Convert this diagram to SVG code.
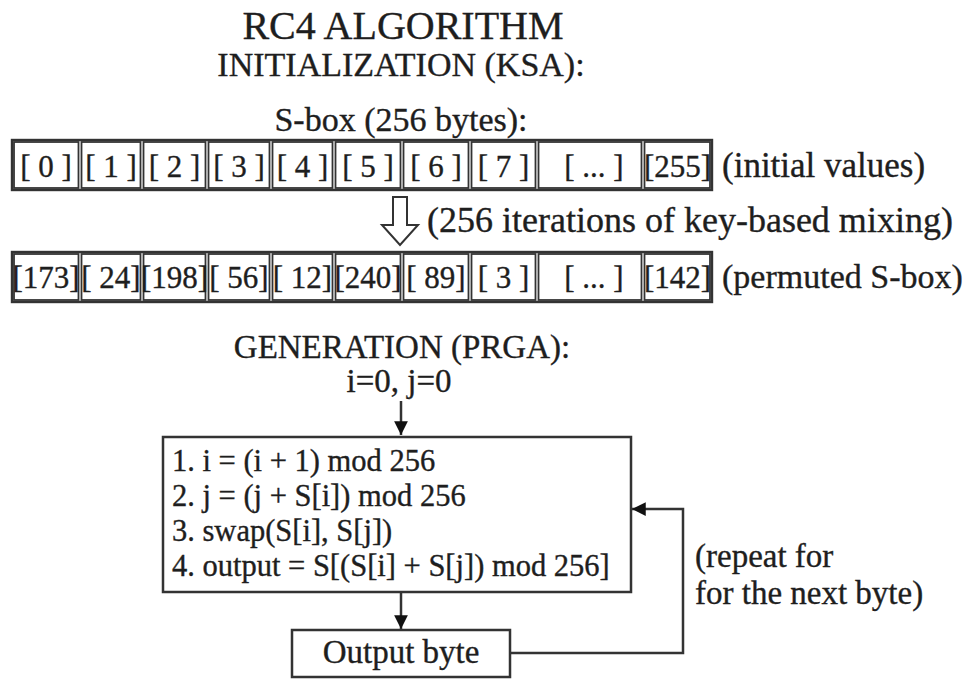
<svg xmlns="http://www.w3.org/2000/svg" width="968" height="679" viewBox="0 0 968 679">
<style>
text{font-family:"Liberation Serif","Times New Roman",serif;fill:#1e1e1e;stroke:#1e1e1e;stroke-width:0.35}
.t{font-size:40px;text-anchor:middle}
.h{font-size:34px;text-anchor:middle}
.g{font-size:33px;text-anchor:middle}
.c{font-size:31px;text-anchor:middle}
.n{font-size:35px}
.r{font-size:33px}
.b{font-size:30.5px}
.cell{fill:none;stroke:#333;stroke-width:1.8}
.outer{fill:none;stroke:#333;stroke-width:2.4}
.box{fill:#fff;stroke:#333;stroke-width:2.5}
.ln{fill:none;stroke:#333;stroke-width:2.5}
</style>
<defs>
<marker id="ah" viewBox="0 0 10 10" refX="10" refY="5" markerWidth="5.5" markerHeight="5.5" orient="auto" markerUnits="strokeWidth">
<path d="M0,0 L10,5 L0,10 z" fill="#111"/>
</marker>
</defs>
<rect width="968" height="679" fill="#fff"/>
<g id="title">
<text class="t" x="403" y="39">RC4 ALGORITHM</text>
<text class="h" x="401" y="76">INITIALIZATION (KSA):</text>
<text class="h" x="401" y="131">S-box (256 bytes):</text>
</g>
<g id="sbox-initial">
<rect class="outer" x="12" y="140" width="700" height="50"/>
<rect class="cell" x="14" y="142" width="64.5" height="46"/>
<rect class="cell" x="81.5" y="142" width="59" height="46"/>
<rect class="cell" x="143.5" y="142" width="62" height="46"/>
<rect class="cell" x="208.5" y="142" width="61" height="46"/>
<rect class="cell" x="272.5" y="142" width="60" height="46"/>
<rect class="cell" x="335.5" y="142" width="65" height="46"/>
<rect class="cell" x="403.5" y="142" width="65" height="46"/>
<rect class="cell" x="471.5" y="142" width="64" height="46"/>
<rect class="cell" x="538.5" y="142" width="103" height="46"/>
<rect class="cell" x="644.5" y="142" width="65.5" height="46"/>
<text class="c" x="46" y="177">[ 0 ]</text>
<text class="c" x="111" y="177">[ 1 ]</text>
<text class="c" x="174.5" y="177">[ 2 ]</text>
<text class="c" x="239" y="177">[ 3 ]</text>
<text class="c" x="302.5" y="177">[ 4 ]</text>
<text class="c" x="368" y="177">[ 5 ]</text>
<text class="c" x="436" y="177">[ 6 ]</text>
<text class="c" x="503.5" y="177">[ 7 ]</text>
<text class="c" x="594" y="177">[ ... ]</text>
<text class="c" x="677.5" y="177">[255]</text>
<text class="n" x="722" y="177">(initial values)</text>
</g>
<g id="mixing">
<polygon points="393,197 407,197 407,225 418,225 400,245 382,225 393,225" fill="#fff" stroke="#333" stroke-width="2"/>
<text class="n" x="427" y="232" style="font-size:36px">(256 iterations of key-based mixing)</text>
</g>
<g id="sbox-permuted">
<rect class="outer" x="12" y="252" width="700" height="50"/>
<rect class="cell" x="14" y="254" width="64.5" height="46"/>
<rect class="cell" x="81.5" y="254" width="59" height="46"/>
<rect class="cell" x="143.5" y="254" width="62" height="46"/>
<rect class="cell" x="208.5" y="254" width="61" height="46"/>
<rect class="cell" x="272.5" y="254" width="60" height="46"/>
<rect class="cell" x="335.5" y="254" width="65" height="46"/>
<rect class="cell" x="403.5" y="254" width="65" height="46"/>
<rect class="cell" x="471.5" y="254" width="64" height="46"/>
<rect class="cell" x="538.5" y="254" width="103" height="46"/>
<rect class="cell" x="644.5" y="254" width="65.5" height="46"/>
<text class="c" x="46" y="288">[173]</text>
<text class="c" x="111" y="288">[ 24]</text>
<text class="c" x="174.5" y="288">[198]</text>
<text class="c" x="239" y="288">[ 56]</text>
<text class="c" x="302.5" y="288">[ 12]</text>
<text class="c" x="368" y="288">[240]</text>
<text class="c" x="436" y="288">[ 89]</text>
<text class="c" x="503.5" y="288">[ 3 ]</text>
<text class="c" x="594" y="288">[ ... ]</text>
<text class="c" x="677.5" y="288">[142]</text>
<text class="n" x="722" y="288" style="font-size:34px">(permuted S-box)</text>
</g>
<g id="generation">
<text class="g" x="402" y="358">GENERATION (PRGA):</text>
<text class="g" x="399" y="392">i=0, j=0</text>
</g>
<g id="connectors">
<line class="ln" x1="401" y1="401" x2="401" y2="435" marker-end="url(#ah)"/>
<line class="ln" x1="401" y1="593" x2="401" y2="629" marker-end="url(#ah)"/>
<polyline class="ln" points="511,653 683,653 683,509 632,509" marker-end="url(#ah)"/>
</g>
<g id="prga-steps">
<rect class="box" x="163" y="437" width="468" height="155"/>
<text class="b" x="172" y="471">1. i = (i + 1) mod 256</text>
<text class="b" x="172" y="506">2. j = (j + S[i]) mod 256</text>
<text class="b" x="172" y="541">3. swap(S[i], S[j])</text>
<text class="b" x="172" y="576">4. output = S[(S[i] + S[j]) mod 256]</text>
</g>
<g id="output-byte">
<rect class="box" x="292" y="630" width="218" height="47"/>
<text class="g" x="401" y="663">Output byte</text>
</g>
<g id="repeat-label">
<text class="r" x="695" y="567">(repeat for</text>
<text class="r" x="695" y="604">for the next byte)</text>
</g>
</svg>
